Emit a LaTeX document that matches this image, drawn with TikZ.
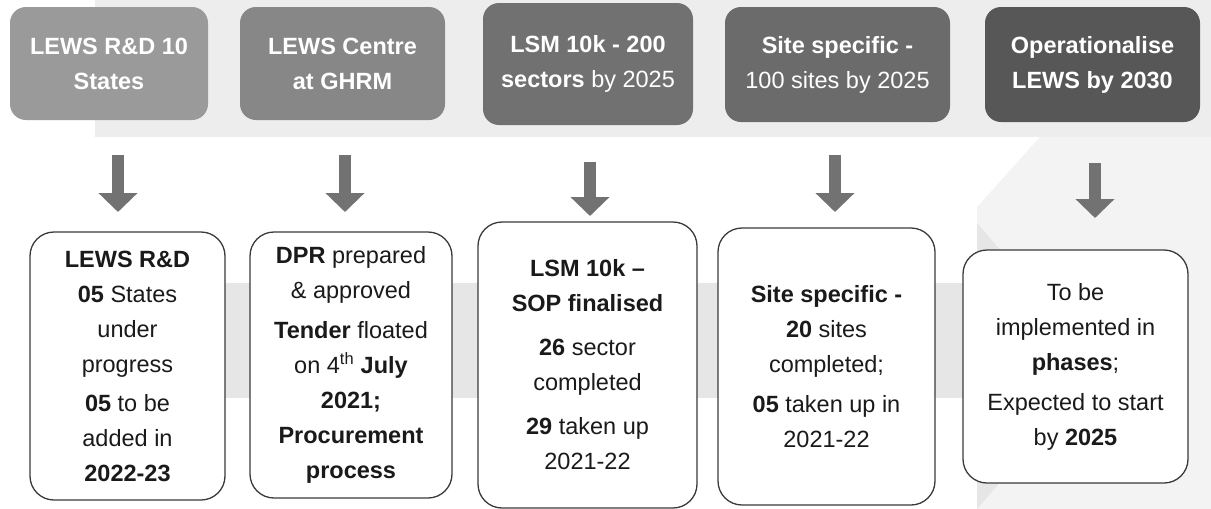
\documentclass[tikz,border=0pt]{standalone}
\usepackage{fontspec}
\setmainfont{Liberation Sans}
\usetikzlibrary{arrows.meta}
\definecolor{bgpanel}{HTML}{EDEDED}
\definecolor{bgright}{HTML}{F3F3F3}
\definecolor{bgband}{HTML}{E6E6E6}
\definecolor{topA}{HTML}{9A9A9A}
\definecolor{topB}{HTML}{878787}
\definecolor{topC}{HTML}{717171}
\definecolor{topD}{HTML}{6B6B6B}
\definecolor{topE}{HTML}{575757}
\definecolor{arrowgray}{HTML}{727272}
\definecolor{boxline}{HTML}{3A3A3A}
\definecolor{txt}{HTML}{1A1A1A}
\begin{document}
\begin{tikzpicture}[x=1pt,y=-1pt,
  topbox/.style={rounded corners=16pt, inner sep=0pt, align=center, text=white,
    font=\fontsize{23.5}{35}\selectfont\bfseries},
  botbox/.style={draw=boxline, line width=1.3pt, fill=white, rounded corners=24pt,
    inner sep=0pt, align=center, text=txt, font=\fontsize{23.5}{35}\selectfont},
  blockarrow/.style={draw=arrowgray, line width=12pt,
    -{Triangle[width=38pt,length=19pt]}}
]
\useasboundingbox (0,0) rectangle (1211,509);
% faint background shapes
\fill[bgpanel] (95,0) rectangle (1211,137);
\fill[bgright] (977,207) -- (1040,137) -- (1211,137) -- (1211,509) -- (977,509) -- cycle;
\fill[bgband] (100,283) rectangle (977,398);
\fill[bgband] (977,223) -- (1100,366) -- (977,509) -- cycle;

% top row
\node[topbox, fill=topA, minimum width=198pt, minimum height=113pt] (t1) at (109,63.5)
  {LEWS R\&D 10\\States};
\node[topbox, fill=topB, minimum width=205pt, minimum height=113pt] (t2) at (342.5,63.5)
  {LEWS Centre\\at GHRM};
\node[topbox, fill=topC, minimum width=210pt, minimum height=122pt] (t3) at (588,64)
  {LSM 10k - 200\\sectors \mdseries by 2025};
\node[topbox, fill=topD, minimum width=225pt, minimum height=115pt] (t4) at (837.5,64.5)
  {Site specific -\\\mdseries 100 sites by 2025};
\node[topbox, fill=topE, minimum width=215pt, minimum height=115pt] (t5) at (1092.5,64.5)
  {Operationalise\\LEWS by 2030};

% bottom row
\node[botbox, minimum width=195pt, minimum height=268pt] (b1) at (127.5,366)
  {\textbf{LEWS R\&D}\\\textbf{05} States\\under\\progress\\[4pt]\textbf{05} to be\\added in\\\textbf{2022-23}};
\node[botbox, minimum width=202pt, minimum height=266pt] (b2) at (351,365)
  {\textbf{DPR} prepared\\\& approved\\[5pt]\textbf{Tender} floated\\on 4\textsuperscript{th} \textbf{July}\\\textbf{2021;}\\\textbf{Procurement}\\\textbf{process}};
\node[botbox, minimum width=219pt, minimum height=286pt] (b3) at (587.5,365)
  {\textbf{LSM 10k –}\\\textbf{SOP finalised}\\[9pt]\textbf{26} sector\\completed\\[9pt]\textbf{29} taken up\\2021-22};
\node[botbox, minimum width=217pt, minimum height=277pt] (b4) at (826.5,366.5)
  {\textbf{Site specific -}\\\textbf{20} sites\\completed;\\[5pt]\textbf{05} taken up in\\2021-22};
\node[botbox, minimum width=225pt, minimum height=233pt] (b5) at (1075.5,366.5)
  {To be\\implemented in\\\textbf{phases};\\[5pt]Expected to start\\by \textbf{2025}};

% block arrows
\coordinate (a1) at (118,212);
\coordinate (a2) at (345,212);
\coordinate (a3) at (590,216);
\coordinate (a4) at (835,212);
\coordinate (a5) at (1095,218);
\draw[blockarrow, shorten <=35pt] (t1.south -| a1) -- (a1);
\draw[blockarrow, shorten <=35pt] (t2.south -| a2) -- (a2);
\draw[blockarrow, shorten <=37pt] (t3.south -| a3) -- (a3);
\draw[blockarrow, shorten <=33pt] (t4.south -| a4) -- (a4);
\draw[blockarrow, shorten <=41pt] (t5.south -| a5) -- (a5);
\end{tikzpicture}
\end{document}
